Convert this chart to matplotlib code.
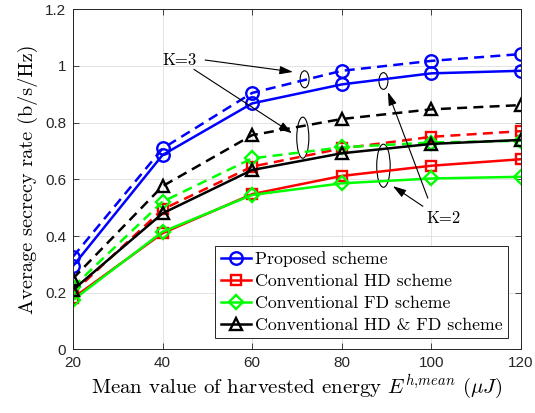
import matplotlib
matplotlib.use('Agg')
import matplotlib.pyplot as plt
from matplotlib.patches import Ellipse

plt.rcParams['mathtext.fontset'] = 'cm'
plt.rcParams['axes.unicode_minus'] = False

# Mean harvested energy (uJ)
energy = [20, 40, 60, 80, 100, 120]

# Average secrecy rate (b/s/Hz), K=2 (solid) and K=3 (dashed)
proposed_k2 = [0.294, 0.686, 0.868, 0.935, 0.974, 0.983]
proposed_k3 = [0.327, 0.709, 0.905, 0.983, 1.018, 1.042]
hd_k2 = [0.181, 0.410, 0.548, 0.612, 0.648, 0.671]
hd_k3 = [0.200, 0.494, 0.645, 0.709, 0.750, 0.770]
fd_k2 = [0.174, 0.415, 0.545, 0.586, 0.603, 0.609]
fd_k3 = [0.220, 0.521, 0.674, 0.713, 0.730, 0.736]
hdfd_k2 = [0.210, 0.480, 0.633, 0.692, 0.725, 0.739]
hdfd_k3 = [0.250, 0.576, 0.756, 0.813, 0.847, 0.862]

labels = ['Proposed scheme', 'Conventional HD scheme',
          'Conventional FD scheme', 'Conventional HD & FD scheme']
colors = ['#0000ff', '#ff0000', '#00ff00', 'k']
markers = ['o', 's', 'D', '^']
msizes = [9, 7.5, 7.5, 9]

fig = plt.figure(figsize=(5.35, 4.13), dpi=100)
ax = fig.add_axes([0.1364, 0.154, 0.8374, 0.8235])

series_k2 = [proposed_k2, hd_k2, fd_k2, hdfd_k2]
series_k3 = [proposed_k3, hd_k3, fd_k3, hdfd_k3]
for y2, y3, c, m, ms, lab in zip(series_k2, series_k3, colors, markers, msizes, labels):
    ax.plot(energy, y3, color=c, ls=(0, (4, 2.5)), lw=1.8, marker=m, ms=ms,
            mfc='none', mec=c, mew=1.7)
    ax.plot(energy, y2, color=c, ls='-', lw=1.8, marker=m, ms=ms,
            mfc='none', mec=c, mew=1.7, label=lab)

ax.set_xlim(20, 120)
ax.set_ylim(0, 1.2)
ax.set_xticks([20, 40, 60, 80, 100, 120])
ax.set_yticks([0, 0.2, 0.4, 0.6, 0.8, 1.0, 1.2])
ax.set_yticklabels(['0', '0.2', '0.4', '0.6', '0.8', '1', '1.2'])
for lab in ax.get_xticklabels() + ax.get_yticklabels():
    lab.set_family('Liberation Sans')
    lab.set_fontsize(11)
ax.tick_params(direction='in', top=True, right=True, length=4, width=0.6,
               colors='#262626', pad=5)
ax.grid(True, color='#e3e3e3', lw=0.7)
ax.set_axisbelow(True)
for sp in ax.spines.values():
    sp.set_color('#262626')
    sp.set_linewidth(0.7)

ax.set_xlabel(r'Mean value of harvested energy $E^{h{,}mean}$ $(\mu J)$',
              family='cmr10', fontsize=15, labelpad=2)
ax.set_ylabel('Average secrecy rate (b/s/Hz)', family='cmr10', fontsize=14.6,
              labelpad=5)

# ellipses grouping the K=3 and K=2 curves
for xc, yc, w, h in [(71.7, 0.953, 2.0, 0.06), (71.3, 0.747, 2.7, 0.145),
                     (89.3, 0.947, 2.0, 0.059), (89.3, 0.648, 3.0, 0.152)]:
    ax.add_patch(Ellipse((xc, yc), w, h, fill=False, ec='k', lw=0.8))

arrow = dict(arrowstyle='-|>,head_length=0.8,head_width=0.25', color='k',
             lw=0.8, shrinkA=0, shrinkB=0)
ax.text(43.7, 1.021, 'K=3', family='cmr10', fontsize=12, ha='center', va='center')
ax.annotate('', xy=(69.1, 0.979), xytext=(49.5, 1.021), arrowprops=arrow)
ax.annotate('', xy=(68.9, 0.763), xytext=(47.0, 0.988), arrowprops=arrow)
ax.text(102.8, 0.463, 'K=2', family='cmr10', fontsize=12, ha='center', va='center')
ax.annotate('', xy=(90.3, 0.908), xytext=(99.2, 0.534), arrowprops=arrow)
ax.annotate('', xy=(91.4, 0.576), xytext=(98.1, 0.505), arrowprops=arrow)

leg = ax.legend(loc='lower right', bbox_to_anchor=(0.972, 0.033),
                prop={'family': 'cmr10', 'size': 12.8}, frameon=True,
                fancybox=False, edgecolor='#262626', framealpha=1,
                handlelength=1.7, handletextpad=0.25, borderpad=0.3,
                labelspacing=0.36, borderaxespad=0)
leg.get_frame().set_linewidth(0.7)

fig.savefig('out.png', dpi=100)
